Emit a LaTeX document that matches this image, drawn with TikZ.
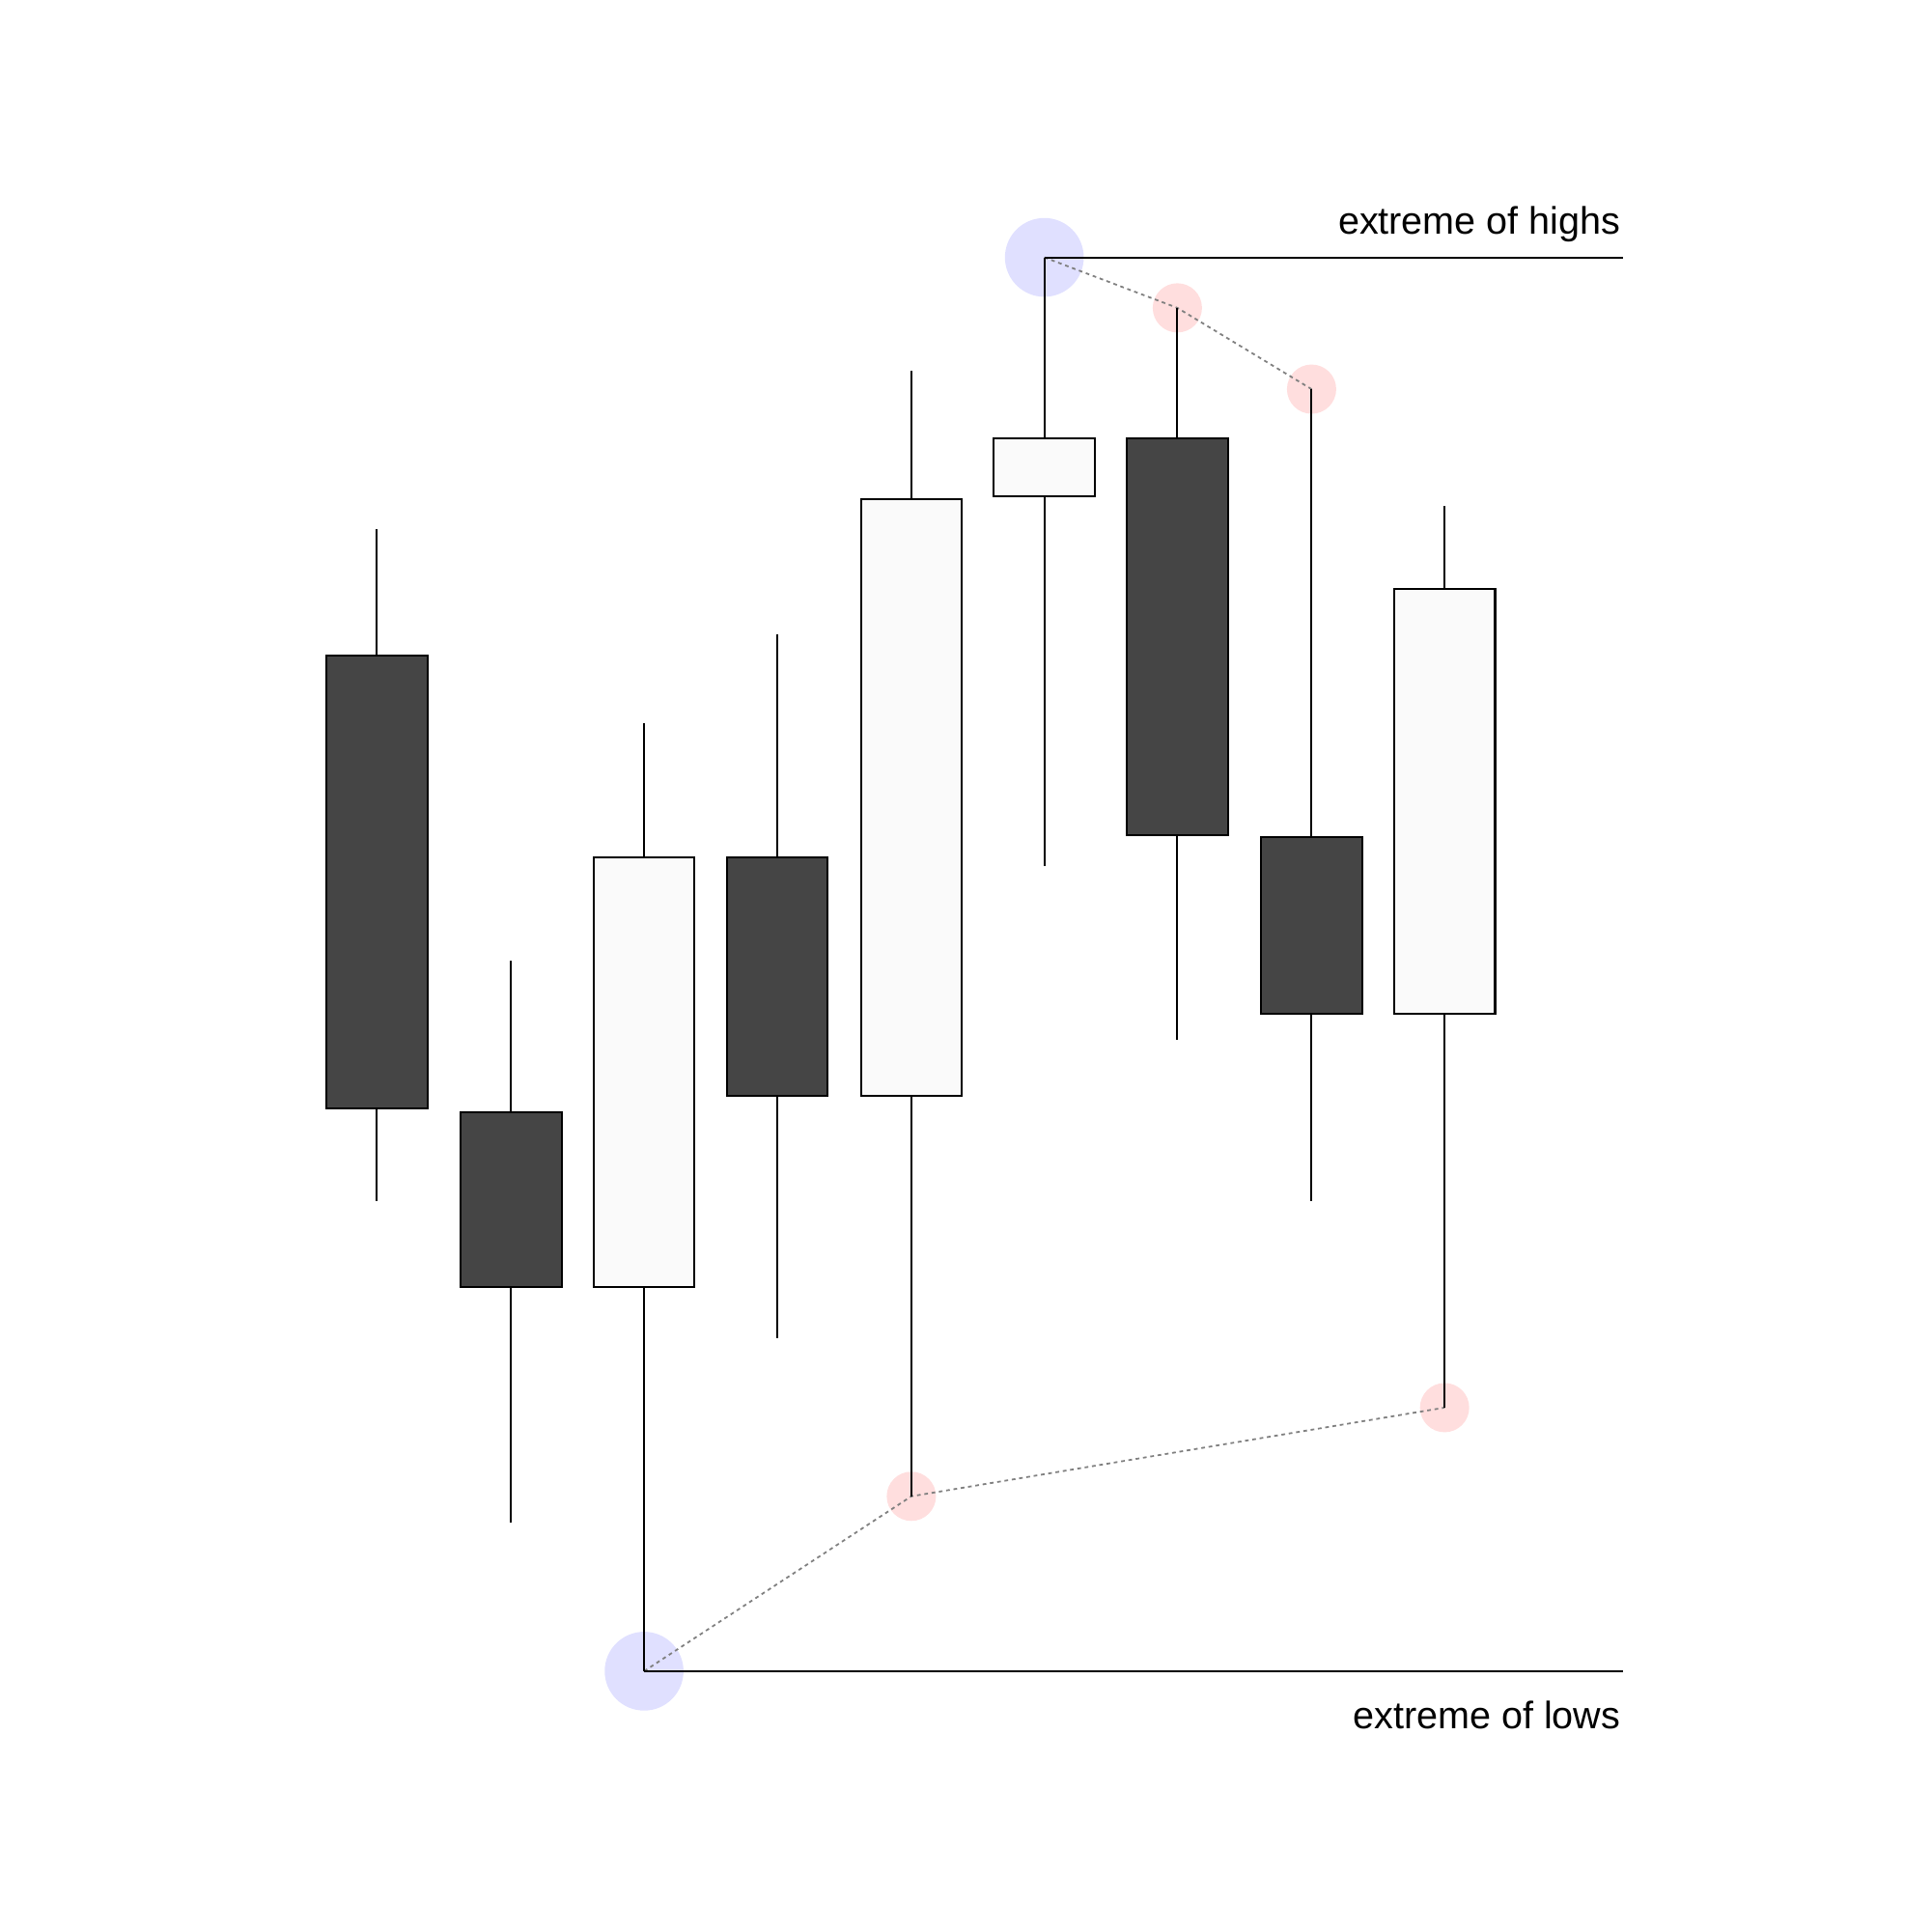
\documentclass[tikz,border=0pt]{standalone}
\usepackage{fontspec}
\setmainfont{Liberation Sans}
\begin{document}
\begin{tikzpicture}[x=1pt,y=-1pt,
  wick/.style={line width=1.6pt,black},
  dark/.style={draw=black,line width=1.6pt,fill=black!73},
  light/.style={draw=black,line width=1.6pt,fill=black!2},
  bdot/.style={circle,fill=blue!12,inner sep=0,minimum size=64pt},
  pdot/.style={circle,fill=red!13,inner sep=0,minimum size=40pt},
  dots/.style={gray,line width=1.4pt,dash pattern=on 3pt off 3pt},
  lab/.style={font=\fontsize{31}{36}\selectfont,anchor=base east,inner sep=0}]
\useasboundingbox (0,0) rectangle (1568,1568);
\node[bdot] (bh) at (848,209) {};
\node[bdot] (bl) at (523,1357) {};
\node[pdot] (p1) at (956,250) {};
\node[pdot] (p2) at (1065,316) {};
\node[pdot] (p3) at (740,1215) {};
\node[pdot] (p4) at (1173,1143) {};
\draw[dots] (bh.center) -- (p1.center) -- (p2.center);
\draw[dots] (bl.center) -- (p3.center) -- (p4.center);
\foreach \x/\a/\b/\c/\d/\s in {306/430/532/900/975/dark,415/780/903/1045/1236/dark,523/587/696/1045/1357/light,631/515/696/890/1087/dark,740/301/405/890/1215/light,848/209/356/403/703/light,956/250/356/678/844/dark,1065/316/680/823/975/dark,1173/411/478/823/1143/light}{
  \draw[wick] (\x,\a) -- (\x,\d);
  \draw[\s] (\x-41,\b) rectangle (\x+41,\c);
}
\coordinate (eh) at (1318,209);
\coordinate (el) at (1318,1357);
\draw[wick] (bh.center) -- (eh);
\draw[wick] (bl.center) -- (el);
\node[lab] (th) at (1316,190) {extreme of highs};
\node[lab] (tl) at (1316,1404) {extreme of lows};
\end{tikzpicture}
\end{document}
